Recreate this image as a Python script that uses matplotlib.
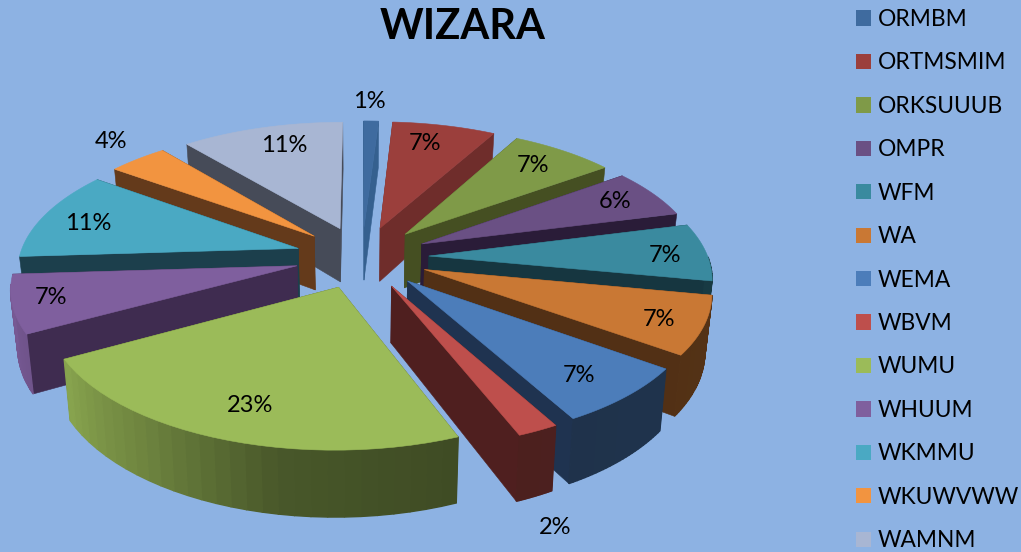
import numpy as np
import matplotlib
matplotlib.use("Agg")
import matplotlib.pyplot as plt
from matplotlib.patches import Polygon, Patch

title = "WIZARA"
categories = ["ORMBM", "ORTMSMIM", "ORKSUUUB", "OMPR", "WFM", "WA", "WEMA",
              "WBVM", "WUMU", "WHUUM", "WKMMU", "WKUWVWW", "WAMNM"]
values = [1, 7, 7, 6, 7, 7, 7, 2, 23, 7, 11, 4, 11]

face_colors = ["#3f6b9f", "#9b3f3c", "#7f9a48", "#6a5084", "#3a8a9f", "#c97834", "#4c7dba",
               "#be4f4c", "#9bbb59", "#7f5f9e", "#4aa9c3", "#f29440", "#a8b6d3"]
wall_colors = ["#35608f", "#6f2d2b", "#454f22", "#2a1c38", "#163640", "#523015", "#1f3350",
               "#4f1f1f", "#4e5a28", "#3f2c50", "#1c3f4c", "#643a1b", "#464b58"]
label_xy = [(369, 102), (425, 144), (533, 165), (615, 202), (665, 255), (659, 319), (579, 375),
            (555, 527), (250, 406), (51, 298), (88, 223), (111, 141), (284, 146)]

BG = "#8db2e3"
CX, CY = 362.0, 257.0
A, B, Q = 279.0, 129.5, 0.1454
EXPLODE = 0.24
DEPTH = 55.0
BOTTOM_X = 0.98

plt.rcParams["font.family"] = ["Lato", "DejaVu Sans"]
fig = plt.figure(figsize=(10.21, 5.52), dpi=100, facecolor=BG)
ax = fig.add_axes([0, 0, 1, 1])
ax.set_xlim(0, 1021)
ax.set_ylim(552, 0)
ax.axis("off")


def top(u, v):
    den = 1 - Q * v
    return CX + A * u / den, CY + B * v / den


def bottom(u, v):
    x, y = top(u, v)
    return CX + (x - CX) * BOTTOM_X, y + DEPTH / (1 - Q * v)


def shade(theta):
    return np.interp(theta, [100, 158, 190, 215, 241, 266, 360],
                     [.42, .40, .47, .70, .88, .95, .95])


def scaled(color, f):
    rgb = np.array(matplotlib.colors.to_rgb(color))
    return tuple(np.clip(rgb * f, 0, 1))


def quad(p, color, z, lw=0.4):
    ax.add_patch(Polygon(p, closed=True, facecolor=color, edgecolor=color, lw=lw, zorder=z))


total = sum(values)
edges = np.concatenate([[0], np.cumsum(values)]) * 360.0 / total
mids = (edges[:-1] + edges[1:]) / 2
order = sorted(range(len(values)), key=lambda i: -np.cos(np.radians(mids[i])))

for rank, i in enumerate(order):
    z = 2 + rank
    m = np.radians(mids[i])
    ou, ov = EXPLODE * np.sin(m), -EXPLODE * np.cos(m)
    th = np.radians(np.linspace(edges[i], edges[i + 1], 30))
    us = ou + np.sin(th)
    vs = ov - np.cos(th)

    walls = []
    for ang_u, ang_v in [(us[0], vs[0]), (us[-1], vs[-1])]:
        p = [top(ou, ov), top(ang_u, ang_v), bottom(ang_u, ang_v), bottom(ou, ov)]
        walls.append(((ov + ang_v) / 2, p))
    for _, p in sorted(walls, key=lambda w: w[0]):
        quad(p, wall_colors[i], z)

    for k in range(len(th) - 1):
        t = np.degrees((th[k] + th[k + 1]) / 2)
        if t < 90 or t > 262:
            continue
        p = [top(us[k], vs[k]), top(us[k + 1], vs[k + 1]),
             bottom(us[k + 1], vs[k + 1]), bottom(us[k], vs[k])]
        quad(p, scaled(face_colors[i], shade(t)), z, lw=1.0)

    quad([top(ou, ov)] + [top(a, b) for a, b in zip(us, vs)], face_colors[i], z)

for v, (x, y) in zip(values, label_xy):
    ax.text(x, y, f"{v}%", ha="center", va="center", fontsize=17, color="black", zorder=50)

ax.text(463, 27, title, ha="center", va="center", fontsize=30, fontweight="bold", color="black", zorder=50)

handles = [Patch(facecolor=c, edgecolor="none") for c in face_colors]
leg = ax.legend(handles, categories, loc="upper left", bbox_to_anchor=(856 / 1021, 1 - 9 / 552),
                bbox_transform=fig.transFigure, frameon=False, fontsize=16.4, handlelength=0.66,
                handleheight=0.66, handletextpad=0.3, labelspacing=0.985, borderpad=0, borderaxespad=0)
leg.set_zorder(60)

fig.savefig("out.png", dpi=100, facecolor=BG)
